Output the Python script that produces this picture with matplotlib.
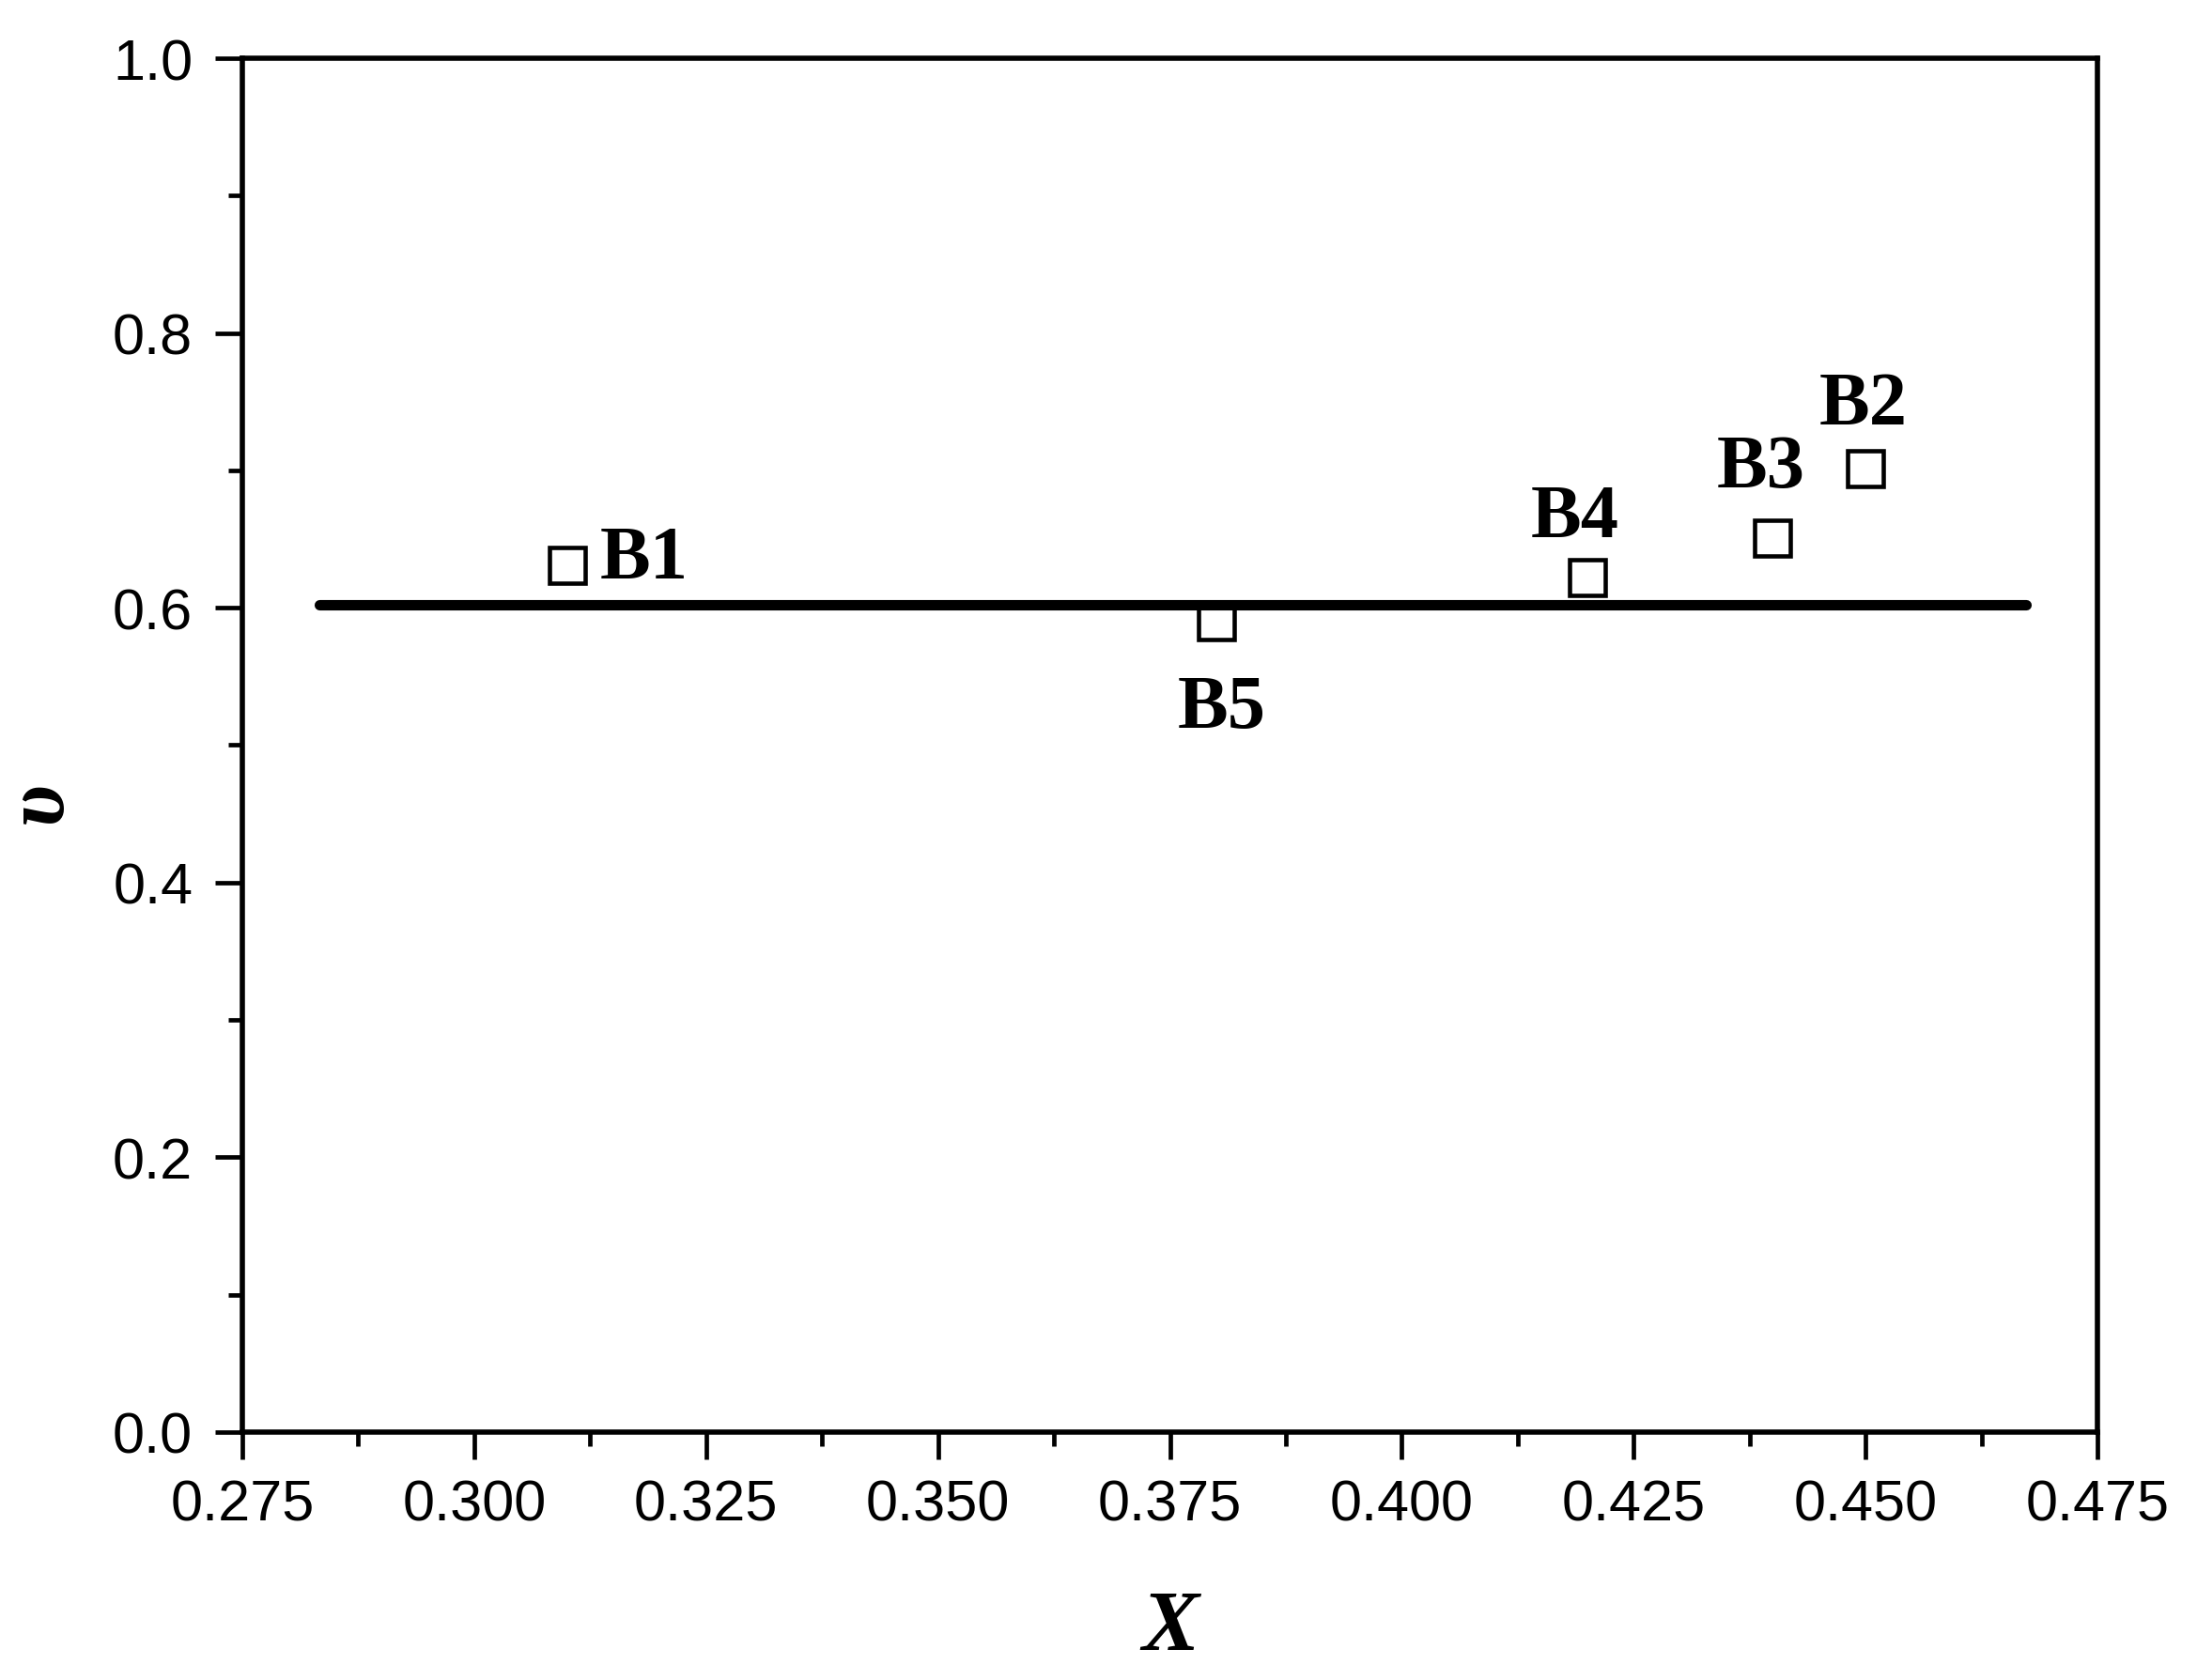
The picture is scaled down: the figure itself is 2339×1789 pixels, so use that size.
import matplotlib.pyplot as plt
from matplotlib.ticker import MultipleLocator

# data
labels = ["B1", "B2", "B3", "B4", "B5"]
x_vals = [0.310, 0.450, 0.440, 0.420, 0.380]
y_vals = [0.631, 0.701, 0.651, 0.622, 0.590]

# label anchor points (baseline, data units)
label_x = [0.3135, 0.4498, 0.4387, 0.4187, 0.3806]
label_y = [0.622, 0.734, 0.688, 0.652, 0.513]
label_ha = ["left", "center", "center", "center", "center"]

# horizontal reference line
fit_x = [0.2833, 0.4673]
fit_y = [0.602, 0.602]

fig = plt.figure(figsize=(23.39, 17.90), dpi=100)
ax = fig.add_axes([0.1103, 0.1475, 0.8444, 0.8173])

ax.plot(fit_x, fit_y, color="black", lw=8, solid_capstyle="round", zorder=2)
ax.plot(x_vals, y_vals, ls="none", marker="s", ms=27, mew=3.3,
        mfc="none", mec="black", zorder=3)

for lab, tx, ty, ha in zip(labels, label_x, label_y, label_ha):
    ax.text(tx, ty, lab, ha=ha, va="baseline", fontsize=58,
            fontweight="bold", family="Liberation Serif")

ax.set_xlim(0.275, 0.475)
ax.set_ylim(0.0, 1.0)
ax.xaxis.set_major_locator(MultipleLocator(0.025))
ax.xaxis.set_minor_locator(MultipleLocator(0.0125))
ax.yaxis.set_major_locator(MultipleLocator(0.2))
ax.yaxis.set_minor_locator(MultipleLocator(0.1))
ax.xaxis.set_major_formatter(plt.FormatStrFormatter("%.3f"))
ax.yaxis.set_major_formatter(plt.FormatStrFormatter("%.1f"))

for s in ax.spines.values():
    s.set_linewidth(4)

ax.tick_params(which="both", direction="out", top=False, right=False, width=3.4)
ax.tick_params(which="major", length=21)
ax.tick_params(which="minor", length=11)
ax.tick_params(axis="x", which="major", pad=15)
ax.tick_params(axis="y", which="major", pad=17)
for t in ax.get_xticklabels() + ax.get_yticklabels():
    t.set_fontsize(44)
    t.set_family("Liberation Sans")

ax.set_xlabel("X", fontsize=66, fontweight="bold", fontstyle="italic",
              family="Liberation Serif", va="baseline")
ax.xaxis.set_label_coords(0.5, -0.158)
ax.set_ylabel("υ", fontsize=66, fontweight="bold", fontstyle="italic",
              family="Liberation Serif", va="center")
ax.yaxis.set_label_coords(-0.109, 0.459)

fig.savefig("out.png", dpi=100)
